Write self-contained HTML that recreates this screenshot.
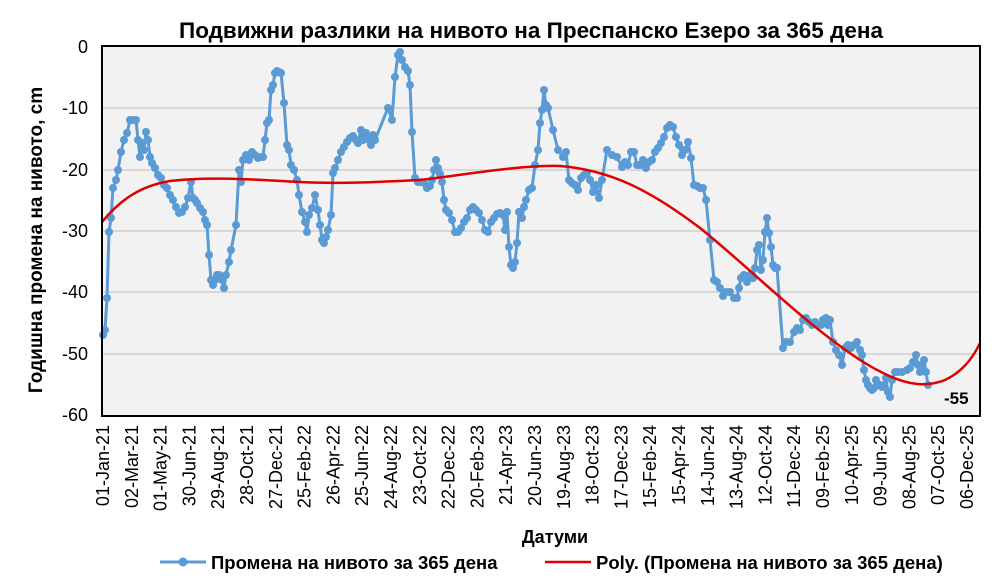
<!DOCTYPE html>
<html><head><meta charset="utf-8"><style>body{margin:0;background:#fff}svg{display:block;font-family:"Liberation Sans",Arial,sans-serif}</style></head><body>
<svg width="1002" height="582" viewBox="0 0 1002 582" xmlns="http://www.w3.org/2000/svg">
<rect x="0" y="0" width="1002" height="582" fill="#fff"/>
<text x="531" y="38" text-anchor="middle" font-size="22.5" font-weight="bold">Подвижни разлики на нивото на Преспанско Езеро за 365 дена</text>
<rect x="102" y="46" width="878" height="370" fill="#f2f2f2"/>
<g stroke="#d0d0d0" stroke-width="1.5">
<line x1="102" x2="980" y1="108" y2="108"/><line x1="102" x2="980" y1="170" y2="170"/><line x1="102" x2="980" y1="231" y2="231"/><line x1="102" x2="980" y1="292" y2="292"/><line x1="102" x2="980" y1="354" y2="354"/>
</g>
<g font-size="18" text-anchor="end">
<text x="88" y="53">0</text><text x="88" y="114">-10</text><text x="88" y="176">-20</text><text x="88" y="237">-30</text><text x="88" y="298">-40</text><text x="88" y="360">-50</text><text x="88" y="421">-60</text>
</g>
<text transform="translate(42,240) rotate(-90)" text-anchor="middle" font-size="19" font-weight="bold">Годишна промена на нивото, cm</text>
<g font-size="18" text-anchor="end" id="xl"></g>
<polyline fill="none" stroke="#5b9bd5" stroke-width="3" stroke-linejoin="round" id="ser" points="103,335 105,330 107,298 109,232 111,218 113,188 116,180 118,170 121,152 124,140 127,133 130,120 133,120 136,120 138,140 140,157 142,143 144,150 146,132 148,140 150,157 152,163 155,168 158,175 161,178 164,185 167,188 170,195 173,200 176,207 179,213 182,212 185,207 188,198 191,182 193,198 195,200 197,203 200,208 203,212 205,220 207,225 209,255 211,280 213,285 215,280 217,275 219,275 222,280 224,288 226,275 229,262 231,250 236,225 239,170 241,182 243,160 246,155 249,160 252,152 255,155 258,158 261,157 263,157 265,140 267,123 269,120 271,90 273,85 275,73 277,71 279,72 281,73 284,103 287,145 289,150 291,165 294,170 297,180 299,195 302,212 305,222 307,232 309,215 312,208 315,195 318,210 320,225 322,240 324,243 326,237 328,230 331,215 333,173 335,168 338,160 341,152 344,147 347,142 350,138 353,136 356,140 358,143 361,130 363,140 366,133 369,140 371,145 373,135 375,140 388,108 392,120 395,77 398,55 400,52 402,60 405,67 408,71 410,85 412,132 415,178 418,182 421,182 424,183 427,188 430,186 432,180 434,170 436,160 438,168 440,174 442,182 444,200 446,210 449,213 452,220 455,232 458,232 461,228 464,222 467,218 470,210 473,207 476,210 479,213 482,220 485,230 488,232 491,222 494,218 497,214 500,213 503,215 505,230 507,212 509,247 511,265 513,268 515,262 517,243 519,212 522,218 524,207 526,200 529,190 532,188 535,165 538,150 540,123 542,110 544,90 546,105 548,108 553,130 558,150 563,157 566,152 569,180 572,183 575,185 578,190 581,178 584,175 587,173 590,180 593,192 596,185 599,198 602,180 607,150 612,155 617,157 622,167 625,162 628,165 631,152 634,152 637,165 640,165 643,160 646,168 649,162 652,160 655,152 658,148 661,143 664,137 667,128 670,125 673,127 676,137 679,145 682,155 685,150 688,142 691,158 694,185 697,186 700,188 703,188 706,200 710,240 714,280 717,282 720,288 723,296 726,292 730,292 734,298 737,298 739,288 741,278 744,275 747,282 750,275 753,278 755,268 757,250 759,245 761,270 763,260 765,232 767,218 769,233 771,247 773,265 775,268 777,268 783,348 786,342 790,342 794,332 797,328 800,330 803,320 806,318 809,322 812,325 815,322 818,325 821,325 823,320 826,318 828,325 830,320 833,342 836,350 839,355 842,365 845,348 848,345 851,348 854,345 857,342 860,350 862,355 864,370 866,380 868,385 870,388 872,390 874,388 876,380 878,385 880,385 882,387 884,385 886,378 888,392 890,397 892,380 895,372 898,372 902,372 907,370 910,368 913,362 916,355 918,365 920,372 922,368 924,360 926,372 928,385"/>
<g id="mk" fill="#5b9bd5"></g>
<path fill="none" stroke="#e00000" stroke-width="2.5" d="M102,222 C120,200 140,186 170,181 C210,176 260,180 300,182 C340,184 380,182 420,180 C470,174 520,165 560,166 C610,170 650,190 700,228 C750,268 800,320 860,360 C895,382 920,390 945,380 C960,373 972,360 980,343"/>
<rect x="102" y="46" width="878" height="370" fill="none" stroke="#000" stroke-width="2"/>
<text x="944" y="404" font-size="17" font-weight="bold">-55</text>
<text x="555" y="543" text-anchor="middle" font-size="18" font-weight="bold">Датуми</text>
<line x1="160" x2="206" y1="562" y2="562" stroke="#5b9bd5" stroke-width="3"/><circle cx="183" cy="562" r="4.5" fill="#5b9bd5"/>
<text x="211" y="569" font-size="18.5" font-weight="bold">Промена на нивото за 365 дена</text>
<line x1="545" x2="591" y1="562" y2="562" stroke="#e00000" stroke-width="2.5"/>
<text x="596" y="569" font-size="18.5" font-weight="bold">Poly. (Промена на нивото за 365 дена)</text>
</svg>
<script>
var labs="01-Jan-21 02-Mar-21 01-May-21 30-Jun-21 29-Aug-21 28-Oct-21 27-Dec-21 25-Feb-22 26-Apr-22 25-Jun-22 24-Aug-22 23-Oct-22 22-Dec-22 20-Feb-23 21-Apr-23 20-Jun-23 19-Aug-23 18-Oct-23 17-Dec-23 15-Feb-24 15-Apr-24 14-Jun-24 13-Aug-24 12-Oct-24 11-Dec-24 09-Feb-25 10-Apr-25 09-Jun-25 08-Aug-25 07-Oct-25 06-Dec-25".split(" ");
var ns="http://www.w3.org/2000/svg",g=document.getElementById("xl");
labs.forEach(function(l,i){var x=103+i*28.8+6;var t=document.createElementNS(ns,"text");t.setAttribute("transform","translate("+x+",425) rotate(-90)");t.textContent=l;g.appendChild(t);});
var pts=document.getElementById("ser").getAttribute("points").trim().split(/\s+/),m=document.getElementById("mk");
pts.forEach(function(p){var a=p.split(",");var c=document.createElementNS(ns,"circle");c.setAttribute("cx",a[0]);c.setAttribute("cy",a[1]);c.setAttribute("r","4");m.appendChild(c);});
</script>
</body></html>
